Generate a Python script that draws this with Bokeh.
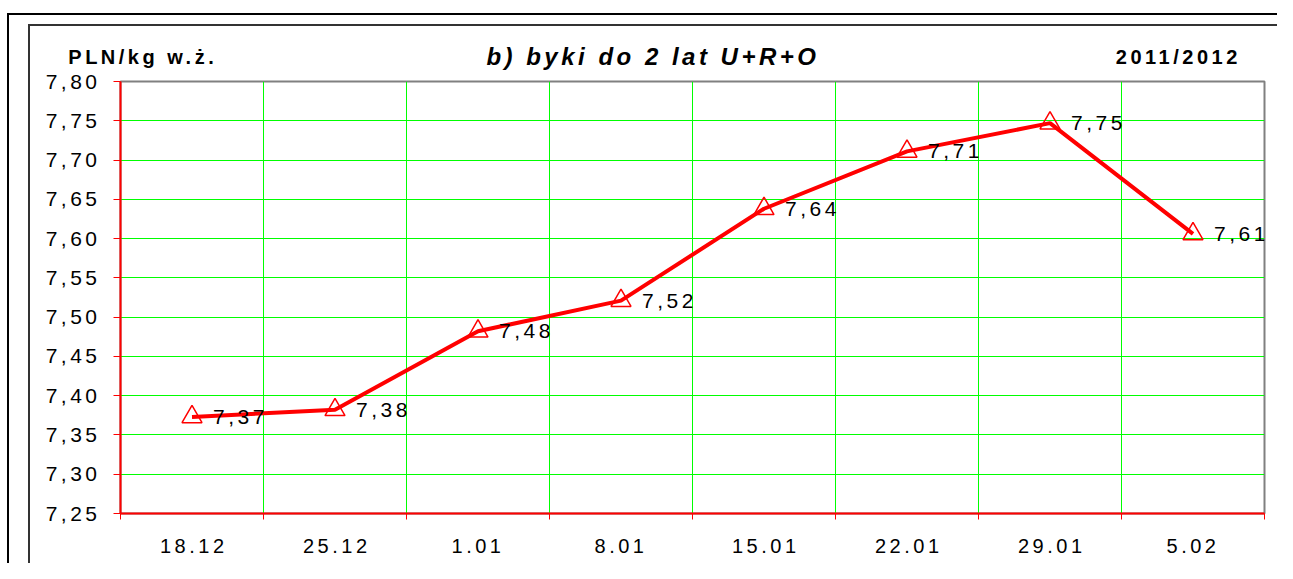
from bokeh.plotting import figure
from bokeh.models import (ColumnDataSource, FixedTicker, CustomJSTickFormatter,
                          LinearAxis, Range1d)
from bokeh.embed import file_html
from bokeh.resources import INLINE
from bokeh.core.properties import value

# ---- data ----
categories = ["18.12", "25.12", "1.01", "8.01", "15.01", "22.01", "29.01", "5.02"]
prices = [7.373, 7.382, 7.482, 7.521, 7.638, 7.711, 7.747, 7.606]
y_ticks = [7.25, 7.30, 7.35, 7.40, 7.45, 7.50, 7.55, 7.60, 7.65, 7.70, 7.75, 7.80]
unit_label = "PLN/kg w.ż."
title_text = "b) byki do 2 lat U+R+O"
season_text = "2011/2012"

FONT = "Liberation Sans"
RED = "#ff0000"
GREEN = "#00ff00"
LETTER_SPACING = 3.5          # px, the original chart uses widely spaced letters
PX_PER_UNIT = 143.0           # width of one category slot in pixels

xs = [i + 0.5 for i in range(len(categories))]
point_labels = [f"{v:.2f}".replace(".", ",") for v in prices]
source = ColumnDataSource(dict(x=xs, y=prices, label=point_labels))

W, H = 1277, 563
p = figure(width=W, height=H, output_backend="svg", toolbar_location=None,
           x_range=Range1d(0, len(categories)), y_range=Range1d(y_ticks[0], y_ticks[-1]),
           min_border_left=120, min_border_right=13, min_border_top=81, min_border_bottom=50)
p.background_fill_color = "white"
p.border_fill_color = "white"
p.outline_line_color = "#808080"
p.outline_line_width = 2

# page frame lines (outer and inner border of the original sheet) + wide letter spacing
p.stylesheets = ["""
:host { position: relative; letter-spacing: %spx; }
:host::before { content: ""; position: absolute; left: 7px; top: 13px;
  width: 1270px; height: 550px; border-left: 2px solid #000; border-top: 2px solid #000;
  box-sizing: border-box; pointer-events: none; z-index: 100; }
:host::after { content: ""; position: absolute; left: 28px; top: 24px;
  width: 1249px; height: 539px; border-left: 2px solid #333; border-top: 2px solid #333;
  box-sizing: border-box; pointer-events: none; z-index: 100; }
""" % LETTER_SPACING]

# x axis: labels centred in their slots (compensating for the letter spacing), ticks between slots
label_shift = 7.0 / PX_PER_UNIT
xa = p.xaxis[0]
xa.ticker = FixedTicker(ticks=[x - label_shift for x in xs],
                        minor_ticks=list(range(len(categories) + 1)))
xa.formatter = CustomJSTickFormatter(args=dict(cats=categories),
                                     code="return cats[Math.floor(tick)];")
xa.axis_line_color = RED
xa.axis_line_width = 2
xa.major_tick_line_color = None
xa.major_tick_out = 0
xa.major_tick_in = 0
xa.minor_tick_line_color = RED
xa.minor_tick_out = 6
xa.minor_tick_in = 0
xa.major_label_standoff = 19
xa.major_label_text_font = FONT
xa.major_label_text_font_size = "20px"
xa.major_label_text_color = "black"

# y axis
ya = p.yaxis[0]
ya.ticker = FixedTicker(ticks=y_ticks)
ya.formatter = CustomJSTickFormatter(code="return tick.toFixed(2).replace('.', ',');")
ya.axis_line_color = RED
ya.axis_line_width = 2
ya.major_tick_line_color = RED
ya.major_tick_out = 7
ya.major_tick_in = 0
ya.minor_tick_line_color = None
ya.major_label_standoff = 27
ya.major_label_text_font = FONT
ya.major_label_text_font_size = "21px"
ya.major_label_text_color = "black"

# grids
p.xgrid.ticker = FixedTicker(ticks=list(range(1, len(categories))))
p.ygrid.ticker = FixedTicker(ticks=y_ticks[1:-1])
p.xgrid.grid_line_color = GREEN
p.ygrid.grid_line_color = GREEN
p.xgrid.grid_line_width = 1
p.ygrid.grid_line_width = 1

# header texts, carried by label-only axes above the plot
def header_axis(positions, texts, style, size, standoff):
    ax = LinearAxis(ticker=FixedTicker(ticks=positions),
                    formatter=CustomJSTickFormatter(
                        args=dict(pos=positions, txt=texts),
                        code="let k = 0; for (let i = 0; i < pos.length; i++) "
                             "{ if (Math.abs(pos[i] - tick) < 1e-6) k = i; } return txt[k];"))
    ax.axis_line_color = None
    ax.major_tick_line_color = None
    ax.minor_tick_line_color = None
    ax.major_tick_out = 0
    ax.major_tick_in = 0
    ax.minor_tick_out = 0
    ax.minor_tick_in = 0
    ax.major_label_standoff = standoff
    ax.major_label_text_font = FONT
    ax.major_label_text_font_style = style
    ax.major_label_text_font_size = size
    ax.major_label_text_color = "black"
    return ax

p.add_layout(header_axis([0.021, 7.287], [unit_label, season_text], "bold", "20px", 14), "above")
p.add_layout(header_axis([3.454], [title_text], "bold italic", "24px", -27), "above")

# series
p.line("x", "y", source=source, line_color=RED, line_width=4)
p.scatter("x", "y", source=source, marker="triangle", size=20,
          line_color=RED, fill_color=None, line_width=1.5)
p.text("x", "y", text="label", source=source, x_offset=21,
       text_baseline="middle", text_align="left",
       text_font=value(FONT), text_font_size="21px", text_color="black")

open("out.html", "w").write(file_html(p, INLINE))
